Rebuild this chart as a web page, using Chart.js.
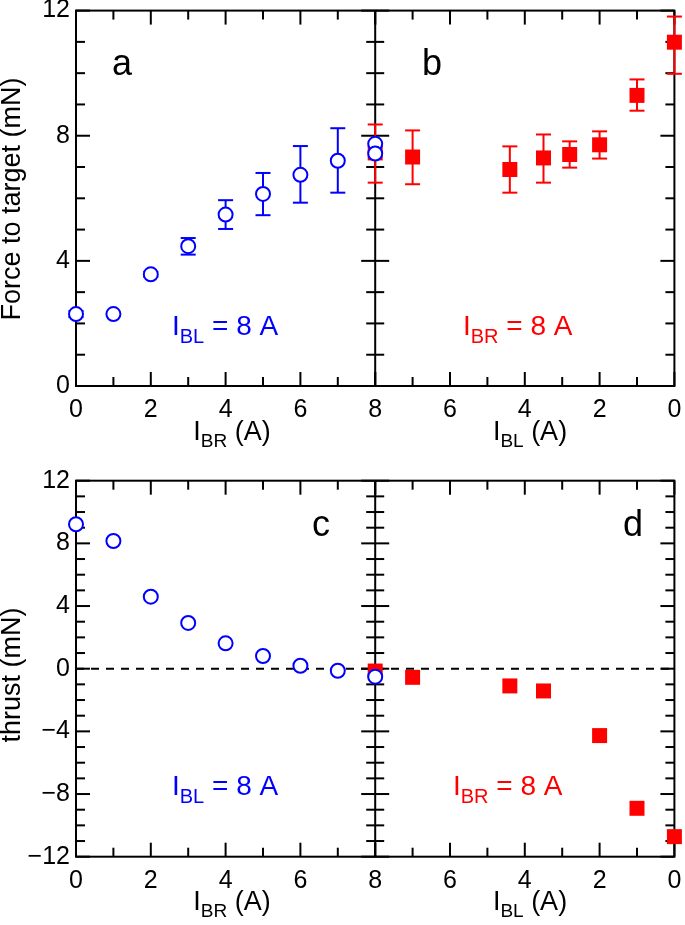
<!DOCTYPE html>
<html><head><meta charset="utf-8">
<script src="https://cdn.jsdelivr.net/npm/chart.js@4.4.1/dist/chart.umd.min.js"></script>
<style>
html,body{margin:0;padding:0;background:#fff;}
#wrap{position:relative;width:685px;height:925px;background:#fff;}
.row{position:absolute;left:0;width:685px;}
</style></head><body>
<div id="wrap">
<div class="row" style="top:0;height:462px"><canvas id="rowTop" width="685" height="462"></canvas></div>
<div class="row" style="top:462px;height:463px"><canvas id="rowBot" width="685" height="463"></canvas></div>
</div>
<script>
// ---------------- data ----------------
// panel a: force vs I_BR (I_BL = 8 A)
const aCurrent = [0, 1, 2, 3, 4, 5, 6, 7, 8, 8];
const aForce   = [2.30, 2.30, 3.57, 4.47, 5.48, 6.14, 6.75, 7.20, 7.74, 7.43];
const aLow     = [2.20, null, 3.49, 4.20, 5.02, 5.46, 5.86, 6.18, null, null];
const aHigh    = [2.40, null, 3.65, 4.73, 5.94, 6.81, 7.67, 8.24, null, null];
// panel b: force vs I_BL (I_BR = 8 A)
const bCurrent = [8, 7, 4.4, 3.5, 2.8, 2, 1, 0];
const bForce   = [7.45, 7.32, 6.92, 7.29, 7.40, 7.71, 9.29, 10.99];
const bLow     = [6.50, 6.45, 6.18, 6.50, 6.98, 7.27, 8.80, 9.98];
const bHigh    = [8.36, 8.17, 7.66, 8.04, 7.82, 8.14, 9.80, 11.81];
// panel c: thrust vs I_BR (I_BL = 8 A)
const cCurrent = [0, 1, 2, 3, 4, 5, 6, 7, 8];
const cThrust  = [9.22, 8.15, 4.60, 2.92, 1.62, 0.81, 0.19, -0.13, -0.51];
// panel d: thrust vs I_BL (I_BR = 8 A)
const dCurrent = [8, 7, 4.4, 3.5, 2, 1, 0];
const dThrust  = [-0.15, -0.55, -1.10, -1.42, -4.27, -8.91, -10.72];
// tick labels
const xTicks      = [0, 2, 4, 6, 8];
const forceTicks  = [0, 4, 8, 12];
const thrustTicks = [-12, -8, -4, 0, 4, 8, 12];

// ---------------- style ----------------
const FONT = "'Liberation Sans', Arial, Helvetica, sans-serif";
const BLUE = '#0000ff', RED = '#ff0000';

function pts(xs, ys) { return xs.map((x, i) => ({x: x, y: ys[i]})); }

function subText(ctx, x, y, parts, size, color, align) {
  const subSize = Math.round(size * 0.7);
  const widths = [];
  let total = 0;
  parts.forEach(p => { ctx.font = (p[1] ? subSize : size) + 'px ' + FONT; const w = ctx.measureText(p[0]).width; widths.push(w); total += w; });
  let cx = align === 'center' ? x - total / 2 : x;
  ctx.fillStyle = color; ctx.textAlign = 'left'; ctx.textBaseline = 'alphabetic';
  parts.forEach((p, i) => { ctx.font = (p[1] ? subSize : size) + 'px ' + FONT; ctx.fillText(p[0], cx, p[1] ? y + size * 0.27 : y); cx += widths[i]; });
}

const decorPlugin = {
  id: 'decor',
  beforeDatasetsDraw(chart, args, opts) {
    const ctx = chart.ctx, a = chart.chartArea;
    const xa = chart.scales.xa, xb = chart.scales.xb, y = chart.scales.y;
    const line = (x1, y1, x2, y2) => { ctx.beginPath(); ctx.moveTo(x1, y1); ctx.lineTo(x2, y2); ctx.stroke(); };
    ctx.save();
    ctx.strokeStyle = '#000'; ctx.lineWidth = 2; ctx.lineCap = 'butt';
    if (opts.zeroLine) {
      ctx.setLineDash([8, 7]);
      const py = y.getPixelForValue(0);
      line(a.left, py, a.right, py);
      ctx.setLineDash([]);
    }
    ctx.strokeRect(a.left, a.top, a.right - a.left, a.bottom - a.top);
    const mid = xa.right;
    line(mid, a.top, mid, a.bottom);
    for (let v = y.min; v <= y.max; v++) {
      const py = y.getPixelForValue(v);
      const len = (v % opts.yMajor === 0) ? 14 : 9;
      line(a.left, py, a.left + len, py);
      line(mid - len, py, mid + len, py);
      line(a.right - len, py, a.right, py);
    }
    [xa, xb].forEach(sc => {
      for (let v = 0; v <= 8; v++) {
        const px = sc.getPixelForValue(v);
        const len = (v % 2 === 0) ? 14 : 9;
        line(px, a.bottom, px, a.bottom - len);
        line(px, a.top, px, a.top + len);
      }
    });
    // error bars
    chart.data.datasets.forEach((ds, di) => {
      if (!ds.errLow) return;
      const meta = chart.getDatasetMeta(di);
      ctx.strokeStyle = ds.borderColor; ctx.lineWidth = 2;
      meta.data.forEach((el, i) => {
        const lo = ds.errLow[i], hi = ds.errHigh[i];
        if (lo == null || hi == null) return;
        const pl = y.getPixelForValue(lo), ph = y.getPixelForValue(hi);
        line(el.x, pl, el.x, ph);
        line(el.x - 7.5, pl, el.x + 7.5, pl);
        line(el.x - 7.5, ph, el.x + 7.5, ph);
      });
    });
    ctx.restore();
  },
  afterDraw(chart, args, opts) {
    const ctx = chart.ctx;
    ctx.save();
    (opts.letters || []).forEach(l => {
      ctx.font = '36px ' + FONT; ctx.fillStyle = '#000'; ctx.textAlign = 'left'; ctx.textBaseline = 'alphabetic';
      ctx.fillText(l.t, l.x, l.y);
    });
    (opts.notes || []).forEach(n => subText(ctx, n.x, n.y, n.parts, 28, n.color, 'left'));
    (opts.xTitles || []).forEach(n => subText(ctx, n.x, n.y, n.parts, 27, '#000', 'center'));
    if (opts.yTitle) {
      ctx.translate(opts.yTitle.x, opts.yTitle.y);
      ctx.rotate(-Math.PI / 2);
      ctx.font = '27px ' + FONT; ctx.fillStyle = '#000'; ctx.textAlign = 'center'; ctx.textBaseline = 'alphabetic';
      ctx.fillText(opts.yTitle.t, 0, 0);
    }
    ctx.restore();
  }
};

function fmt(v) { return v < 0 ? '\u2212' + Math.abs(v) : String(v); }

function xScale(reverse, height, hideEight) {
  return {
    type: 'linear', position: 'bottom', axis: 'x', stack: 'row', stackWeight: 1,
    min: 0, max: 8, reverse: reverse,
    grid: {display: false, drawTicks: false}, border: {display: false},
    afterBuildTicks: s => { s.ticks = xTicks.map(v => ({value: v})); },
    ticks: {autoSkip: false, maxRotation: 0, padding: 9, color: '#000', font: {family: FONT, size: 25},
      callback: v => (hideEight && v === 8) ? '' : fmt(v)},
    afterFit: s => { s.height = height; s.paddingLeft = 0; s.paddingRight = 0; }
  };
}
function yScale(min, max, tickVals) {
  return {
    type: 'linear', position: 'left', min: min, max: max,
    grid: {display: false, drawTicks: false}, border: {display: false},
    afterBuildTicks: s => { s.ticks = tickVals.map(v => ({value: v})); },
    ticks: {autoSkip: false, padding: 6, color: '#000', font: {family: FONT, size: 25}, callback: v => fmt(v)},
    afterFit: s => { s.width = 76; s.paddingTop = 0; s.paddingBottom = 0; }
  };
}

function circleSet(xs, ys, xAxis, lo, hi) {
  return {data: pts(xs, ys), xAxisID: xAxis, yAxisID: 'y', pointStyle: 'circle', pointRadius: 7,
    borderColor: BLUE, backgroundColor: '#ffffff', borderWidth: 2, clip: false, showLine: false,
    errLow: lo, errHigh: hi, order: 0};
}
function squareSet(xs, ys, xAxis, lo, hi) {
  return {data: pts(xs, ys), xAxisID: xAxis, yAxisID: 'y', pointStyle: 'rect', pointRadius: 10.6,
    borderColor: RED, backgroundColor: RED, borderWidth: 0, clip: false, showLine: false,
    errLow: lo, errHigh: hi, order: 1};
}

Chart.defaults.font.family = FONT;

new Chart(document.getElementById('rowTop'), {
  type: 'scatter',
  data: {datasets: [circleSet(aCurrent, aForce, 'xa', aLow, aHigh), squareSet(bCurrent, bForce, 'xb', bLow, bHigh)]},
  plugins: [decorPlugin],
  options: {
    responsive: false, animation: false, events: [],
    layout: {padding: {left: 0, right: 8, top: 10, bottom: 0}},
    scales: {xa: xScale(false, 76, false), xb: xScale(true, 76, true), y: yScale(0, 12, forceTicks)},
    plugins: {legend: {display: false}, tooltip: {enabled: false},
      decor: {
        yMajor: 4, zeroLine: false,
        letters: [{t: 'a', x: 112, y: 75}, {t: 'b', x: 422, y: 75}],
        notes: [{x: 172, y: 335, color: BLUE, parts: [['I', false], ['BL', true], [' = 8 A', false]]},
                {x: 463, y: 335, color: RED, parts: [['I', false], ['BR', true], [' = 8 A', false]]}],
        xTitles: [{x: 232, y: 440, parts: [['I', false], ['BR', true], [' (A)', false]]},
                  {x: 530, y: 440, parts: [['I', false], ['BL', true], [' (A)', false]]}],
        yTitle: {t: 'Force to target (mN)', x: 20, y: 199}
      }}
  }
});

new Chart(document.getElementById('rowBot'), {
  type: 'scatter',
  data: {datasets: [circleSet(cCurrent, cThrust, 'xa', null, null), squareSet(dCurrent, dThrust, 'xb', null, null)]},
  plugins: [decorPlugin],
  options: {
    responsive: false, animation: false, events: [],
    layout: {padding: {left: 0, right: 8, top: 18.7, bottom: 0}},
    scales: {xa: xScale(false, 68.3, false), xb: xScale(true, 68.3, true), y: yScale(-12, 12, thrustTicks)},
    plugins: {legend: {display: false}, tooltip: {enabled: false},
      decor: {
        yMajor: 4, zeroLine: true,
        letters: [{t: 'c', x: 312, y: 74}, {t: 'd', x: 623, y: 74}],
        notes: [{x: 172, y: 333, color: BLUE, parts: [['I', false], ['BL', true], [' = 8 A', false]]},
                {x: 453, y: 333, color: RED, parts: [['I', false], ['BR', true], [' = 8 A', false]]}],
        xTitles: [{x: 232, y: 448, parts: [['I', false], ['BR', true], [' (A)', false]]},
                  {x: 530, y: 448, parts: [['I', false], ['BL', true], [' (A)', false]]}],
        yTitle: {t: 'thrust (mN)', x: 20, y: 213}
      }}
  }
});
</script>
</body></html>
